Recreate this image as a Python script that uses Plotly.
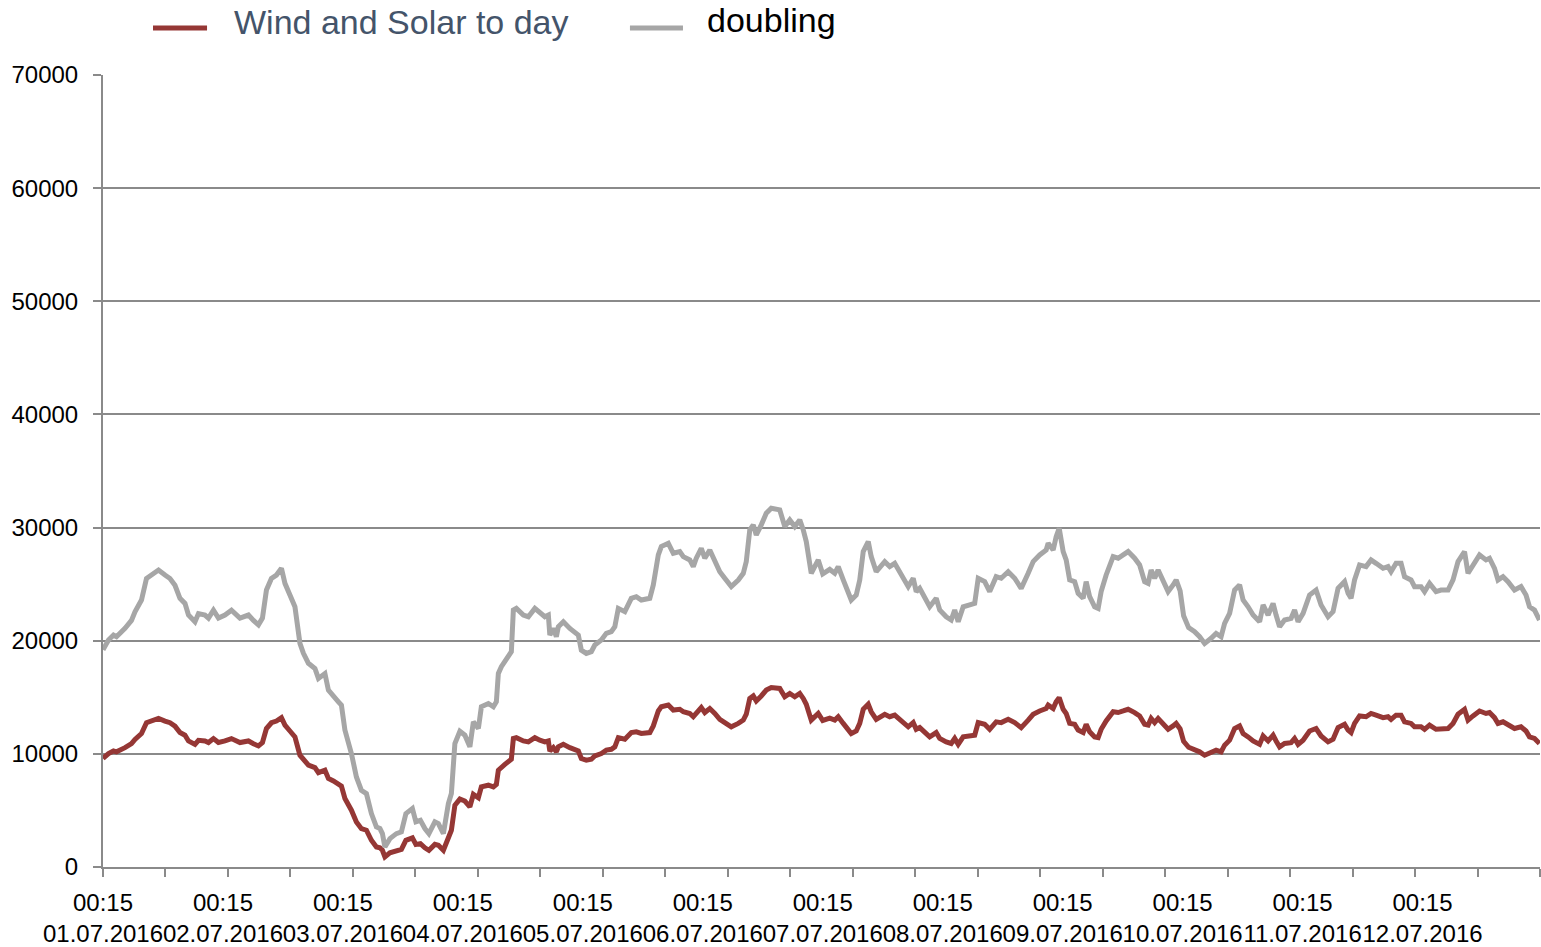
import plotly.graph_objects as go

# ---- data (hours since 01.07.2016 00:15, values in MW) ----
HOURS = [
    0.0, 1.1, 2.1, 2.7, 4.4, 5.7, 6.4, 7.7, 8.7, 10.0,
    11.1, 12.4, 13.4, 14.4, 15.4, 16.4, 17.1, 18.4, 19.1, 20.4,
    21.1, 22.1, 23.1, 24.4, 25.7, 27.4, 29.1, 30.1, 31.1, 31.9,
    32.7, 33.7, 34.7, 35.7, 36.4, 37.4, 38.4, 39.4, 40.1, 41.1,
    42.4, 43.1, 44.4, 45.1, 46.1, 47.1, 47.7, 48.4, 49.7, 50.7,
    51.7, 52.7, 53.7, 54.7, 55.4, 55.9, 56.4, 57.4, 58.7, 59.7,
    60.6, 61.9, 62.6, 63.5, 64.4, 65.2, 66.4, 67.1, 68.1, 69.1,
    69.7, 70.4, 71.4, 72.4, 73.4, 74.1, 75.1, 75.7, 77.1, 78.1,
    78.7, 79.1, 79.7, 80.4, 81.7, 82.1, 82.7, 84.1, 85.1, 86.4,
    87.4, 88.4, 89.1, 89.4, 90.1, 90.7, 91.1, 92.1, 93.4, 95.1,
    95.7, 96.7, 97.7, 98.4, 99.7, 100.7, 101.7, 102.4, 103.1, 104.4,
    105.7, 106.7, 107.7, 109.4, 110.1, 111.1, 111.7, 113.1, 114.1, 115.4,
    116.1, 117.4, 118.1, 118.7, 119.7, 120.4, 121.4, 122.4, 123.4, 124.4,
    125.7, 127.1, 128.1, 128.7, 129.4, 130.1, 130.7, 131.7, 132.7, 133.7,
    135.4, 136.4, 137.4, 138.4, 139.4, 140.1, 140.7, 141.7, 143.1, 144.0,
    145.4, 146.4, 147.1, 148.1, 148.7, 149.7, 150.7, 151.4, 152.1, 153.1,
    153.7, 154.7, 156.4, 157.4, 158.4, 159.7, 161.1, 162.1, 162.7, 163.4,
    164.4, 165.4, 166.7, 167.4, 168.7, 169.7, 170.4, 171.1, 172.1, 173.4,
    174.4, 175.1, 176.4, 177.4, 178.7, 179.7, 181.1, 182.4, 183.7, 185.1,
    186.1, 187.4, 188.7, 189.1, 190.1, 190.7, 191.3, 192.1, 192.7, 193.4,
    194.4, 195.1, 196.1, 196.7, 197.4, 198.4, 199.1, 199.7, 200.7, 202.1,
    203.1, 204.1, 205.1, 206.4, 207.4, 208.4, 209.1, 209.7, 210.4, 211.1,
    212.1, 213.1, 214.1, 214.7, 215.5, 216.2, 217.2, 218.4, 219.4, 220.4,
    221.7, 222.7, 223.7, 224.4, 225.4, 226.4, 227.4, 228.1, 229.1, 230.1,
    231.4, 232.1, 233.1, 234.1, 234.7, 235.4, 236.4, 237.7, 238.4, 239.1,
    240.1, 241.4, 242.7, 243.7, 245.1, 246.1, 247.1, 248.4, 249.1, 249.7,
    250.4, 251.4, 252.7, 253.7, 254.7, 256.1, 257.1, 257.7, 258.7, 259.7,
    260.4, 261.7, 262.4, 263.7, 264.4, 265.4, 266.7, 267.7, 269.1, 270.1,
    271.1, 272.4, 273.1, 274.1, 275.4, 276.7, 277.4, 278.4, 279.1, 280.1,
    281.1, 282.4, 283.7, 284.7, 285.4, 286.4, 287.4,
]

WIND_SOLAR = [
    9600, 10030, 10250, 10180, 10550, 10900, 11280, 11800, 12750, 12980,
    13130, 12900, 12750, 12450, 11880, 11650, 11140, 10840, 11200, 11140,
    11000, 11350, 11000, 11140, 11350, 11000, 11140, 10900, 10700, 11000,
    12240, 12750, 12900, 13200, 12540, 12020, 11500, 9880, 9440, 9000,
    8780, 8340, 8550, 7820, 7600, 7300, 7150, 6050, 5020, 3980,
    3390, 3250, 2360, 1770, 1700, 1480, 890, 1260, 1480, 1550,
    2360, 2580, 2000, 2070, 1700, 1480, 2000, 1920, 1480, 2800,
    3250, 5460, 6000, 5830, 5310, 6420, 6120, 7080, 7230, 7080,
    7300, 8560, 8850, 9070, 9520, 11360, 11430, 11140, 11060, 11430,
    11210, 11060, 11140, 10250, 10550, 10180, 10620, 10840, 10550, 10250,
    9590, 9440, 9520, 9810, 10030, 10330, 10400, 10620, 11430, 11290,
    11880, 11950, 11800, 11880, 12470, 13790, 14160, 14310, 13870, 13940,
    13720, 13570, 13280, 13650, 14090, 13650, 14010, 13570, 13050, 12760,
    12390, 12690, 12980, 13500, 14900, 15120, 14680, 15120, 15640, 15860,
    15780, 15050, 15340, 15050, 15340, 14900, 14380, 12980, 13570, 12950,
    13150, 12980, 13280, 12690, 12320, 11800, 12020, 12690, 13940, 14380,
    13720, 13050, 13500, 13280, 13420, 12910, 12390, 12760, 12170, 12320,
    11950, 11500, 11880, 11360, 11060, 10920, 11360, 10840, 11500, 11580,
    11650, 12760, 12610, 12170, 12830, 12760, 13050, 12760, 12320, 12980,
    13500, 13790, 14010, 14310, 14010, 14600, 14970, 13940, 13570, 12690,
    12610, 12100, 11880, 12610, 11950, 11500, 11430, 12170, 12910, 13720,
    13650, 13790, 13940, 13650, 13350, 12610, 12540, 13130, 12760, 13130,
    12610, 12170, 12470, 12690, 12200, 11100, 10580, 10400, 10180, 9880,
    10110, 10330, 10180, 10770, 11210, 12240, 12470, 11800, 11500, 11140,
    10840, 11580, 11140, 11650, 11140, 10620, 10920, 10990, 11360, 10840,
    11210, 12020, 12240, 11580, 11060, 11290, 12320, 12610, 12100, 11880,
    12690, 13350, 13280, 13570, 13420, 13200, 13280, 13050, 13420, 13420,
    12830, 12690, 12390, 12390, 12170, 12540, 12170, 12240, 12240, 12690,
    13500, 13940, 12980, 13350, 13790, 13570, 13650, 13200, 12690, 12830,
    12610, 12240, 12390, 12020, 11500, 11360, 10920,
]

DOUBLING = [
    19200, 20060, 20500, 20350, 21100, 21800, 22560, 23600, 25500, 25960,
    26250, 25800, 25500, 24900, 23750, 23300, 22270, 21680, 22400, 22270,
    22000, 22700, 22000, 22270, 22700, 22000, 22270, 21800, 21400, 22000,
    24480, 25500, 25800, 26400, 25070, 24040, 23000, 19760, 18880, 18000,
    17550, 16670, 17100, 15630, 15190, 14600, 14300, 12100, 10030, 7960,
    6780, 6490, 4720, 3540, 3400, 2950, 1770, 2510, 2950, 3100,
    4720, 5160, 3990, 4130, 3400, 2950, 3990, 3840, 2950, 5600,
    6490, 10910, 12000, 11650, 10620, 12830, 12240, 14160, 14450, 14160,
    14600, 17110, 17700, 18140, 19030, 22710, 22860, 22270, 22120, 22860,
    22420, 22120, 22270, 20500, 21090, 20350, 21240, 21680, 21090, 20500,
    19170, 18880, 19030, 19620, 20060, 20650, 20800, 21240, 22860, 22570,
    23750, 23890, 23600, 23750, 24930, 27580, 28320, 28610, 27730, 27880,
    27430, 27140, 26550, 27290, 28170, 27290, 28020, 27140, 26100, 25520,
    24780, 25370, 25960, 26990, 29790, 30240, 29350, 30240, 31270, 31710,
    31560, 30090, 30680, 30090, 30680, 29790, 28760, 25960, 27140, 25900,
    26300, 25960, 26550, 25370, 24630, 23600, 24040, 25370, 27880, 28760,
    27430, 26100, 26990, 26550, 26840, 25810, 24780, 25520, 24340, 24630,
    23890, 23000, 23750, 22710, 22120, 21830, 22710, 21680, 23000, 23160,
    23300, 25520, 25220, 24340, 25660, 25520, 26100, 25520, 24630, 25960,
    26990, 27580, 28020, 28610, 28020, 29200, 29940, 27880, 27140, 25370,
    25220, 24190, 23750, 25220, 23890, 23000, 22860, 24340, 25810, 27430,
    27290, 27580, 27880, 27290, 26700, 25220, 25070, 26250, 25520, 26250,
    25220, 24340, 24930, 25370, 24400, 22200, 21150, 20800, 20350, 19760,
    20210, 20650, 20350, 21530, 22420, 24480, 24930, 23600, 23000, 22270,
    21680, 23160, 22270, 23300, 22270, 21240, 21830, 21980, 22710, 21680,
    22420, 24040, 24480, 23160, 22120, 22570, 24630, 25220, 24190, 23750,
    25370, 26700, 26550, 27140, 26840, 26400, 26550, 26100, 26840, 26840,
    25660, 25370, 24780, 24780, 24340, 25070, 24340, 24480, 24480, 25370,
    26990, 27880, 25960, 26700, 27580, 27140, 27290, 26400, 25370, 25660,
    25220, 24480, 24780, 24040, 23000, 22710, 21830,
]

assert len(HOURS) == len(WIND_SOLAR) == len(DOUBLING)

DAY_TICKS = [0, 24, 48, 72, 96, 120, 144, 168, 192, 216, 240, 264]
DAY_LABELS = ["01.07.2016", "02.07.2016", "03.07.2016", "04.07.2016",
              "05.07.2016", "06.07.2016", "07.07.2016", "08.07.2016",
              "09.07.2016", "10.07.2016", "11.07.2016", "12.07.2016"]
TIME_LABEL = "00:15"
Y_TICKS = [0, 10000, 20000, 30000, 40000, 50000, 60000, 70000]

SERIES_NAMES = ["Wind and Solar to day", "doubling"]
SERIES_COLORS = ["#953735", "#a6a6a6"]

FONT = "Liberation Sans, Arial, sans-serif"
GRID = "#8a8a8a"

fig = go.Figure()
fig.add_trace(go.Scatter(x=HOURS, y=WIND_SOLAR, mode="lines", name=SERIES_NAMES[0],
                         line=dict(color=SERIES_COLORS[0], width=5)))
fig.add_trace(go.Scatter(x=HOURS, y=DOUBLING, mode="lines", name=SERIES_NAMES[1],
                         line=dict(color=SERIES_COLORS[1], width=5)))

fig.update_layout(
    width=1541, height=947,
    margin=dict(l=103, r=1, t=75, b=80),
    paper_bgcolor="white", plot_bgcolor="white",
    font=dict(family=FONT, size=24, color="black"),
    showlegend=False,
    xaxis=dict(
        range=[0, 287.5], automargin=False,
        tickmode="array", tickvals=DAY_TICKS,
        ticktext=[f"{TIME_LABEL}<br>{d}" for d in DAY_LABELS],
        tickangle=0,
        ticks="outside", ticklen=8, tickcolor="rgba(0,0,0,0)",
        ticklabelstandoff=5,
        showgrid=False, zeroline=False,
        showline=True, linecolor=GRID, linewidth=2,
        minor=dict(tick0=0, dtick=12.5, ticks="outside", ticklen=8,
                   tickwidth=2, tickcolor=GRID, showgrid=False),
    ),
    yaxis=dict(
        range=[0, 70000], automargin=False,
        tickmode="array", tickvals=Y_TICKS, ticktext=[str(v) for v in Y_TICKS],
        ticks="outside", ticklen=8, tickwidth=2, tickcolor=GRID,
        showgrid=True, gridcolor=GRID, gridwidth=2,
        zeroline=False, showline=True, linecolor=GRID, linewidth=2,
        ticklabelstandoff=10,
    ),
)

# tick at the origin of the x axis
fig.add_shape(type="line", xref="x", yref="paper", x0=0, x1=0, y0=0, y1=-8 / 792,
              line=dict(color=GRID, width=2))

# legend drawn at top (line samples + labels)
fig.add_shape(type="line", xref="paper", yref="paper", x0=0.0348, x1=0.0724,
              y0=1.0593, y1=1.0593, line=dict(color=SERIES_COLORS[0], width=5))
fig.add_shape(type="line", xref="paper", yref="paper", x0=0.3667, x1=0.4036,
              y0=1.0593, y1=1.0593, line=dict(color=SERIES_COLORS[1], width=5))
fig.add_annotation(xref="paper", yref="paper", x=0.0898, y=1.0669, xanchor="left",
                   yanchor="middle", showarrow=False, text=SERIES_NAMES[0],
                   font=dict(family=FONT, size=34, color="#44546a"))
fig.add_annotation(xref="paper", yref="paper", x=0.4189, y=1.0695, xanchor="left",
                   yanchor="middle", showarrow=False, text=SERIES_NAMES[1],
                   font=dict(family=FONT, size=34, color="black"))

fig.write_html(
    "out.html",
    config={"displayModeBar": False},
    post_script="document.body.style.margin='0';document.body.style.overflow='hidden';",
)
